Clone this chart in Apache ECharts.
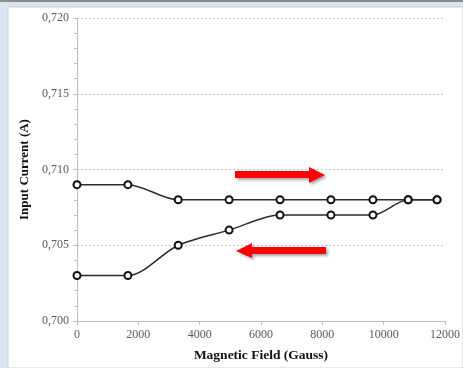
<!DOCTYPE html>
<html>
<head>
<meta charset="utf-8">
<script src="https://cdn.jsdelivr.net/npm/echarts@6/dist/echarts.min.js"></script>
<style>
  html, body { margin: 0; padding: 0; background: #dbe5f1; }
  #chart { width: 463px; height: 368px; }
</style>
</head>
<body>
<div id="chart"></div>
<script>
  // field values (Gauss) and measured current (A)
  var fieldUp = [0, 1660, 3300, 4960, 6620, 8280, 9650, 10800, 11740];
  var currentUp = [0.709, 0.709, 0.708, 0.708, 0.708, 0.708, 0.708, 0.708, 0.708];
  var fieldDown = [0, 1660, 3300, 4960, 6620, 8280, 9650, 10800, 11740];
  var currentDown = [0.703, 0.703, 0.705, 0.706, 0.707, 0.707, 0.707, 0.708, 0.708];

  function pairs(xs, ys) {
    var out = [];
    for (var i = 0; i < xs.length; i++) out.push([xs[i], ys[i]]);
    return out;
  }

  var myChart = echarts.init(document.getElementById('chart'));
  var font = 'Liberation Serif';

  var seriesStyle = {
    type: 'line',
    smooth: 0.3,
    symbol: 'circle',
    symbolSize: 7,
    lineStyle: { color: '#2b2b2b', width: 1.5 },
    itemStyle: { color: '#ffffff', borderColor: '#111', borderWidth: 2 },
    z: 3
  };

  myChart.setOption({
    backgroundColor: 'transparent',
    animation: false,
    graphic: [
      // white page with the light blue frame around it
      { type: 'rect', shape: { x: 0, y: 0, width: 463, height: 2 }, style: { fill: '#8c8c8c' }, z: -10 },
      { type: 'rect', shape: { x: 8, y: 7, width: 455, height: 361 }, style: { fill: '#ffffff', stroke: '#c8d3e0', lineWidth: 1 }, z: -10 },
      // right arrow
      {
        type: 'polygon',
        shape: { points: [[235, 171], [309, 171], [309, 167], [325, 175], [309, 183], [309, 178], [235, 178]] },
        style: { fill: '#ff0000', shadowBlur: 3, shadowOffsetX: 2, shadowOffsetY: 2, shadowColor: 'rgba(0,0,0,0.35)' },
        z: 10
      },
      // left arrow
      {
        type: 'polygon',
        shape: { points: [[326, 247], [252, 247], [252, 243], [236, 251], [252, 258], [252, 254], [326, 254]] },
        style: { fill: '#ff0000', shadowBlur: 3, shadowOffsetX: 2, shadowOffsetY: 2, shadowColor: 'rgba(0,0,0,0.35)' },
        z: 10
      }
    ],
    grid: { left: 77, right: 18, top: 18, bottom: 47 },
    xAxis: {
      type: 'value',
      min: 0,
      max: 12000,
      interval: 2000,
      name: 'Magnetic Field (Gauss)',
      nameLocation: 'middle',
      nameGap: 28,
      nameTextStyle: { fontFamily: font, fontWeight: 'bold', fontSize: 13.5, color: '#111' },
      axisLine: { show: true, lineStyle: { color: '#bfbfbf' } },
      axisTick: { show: true, length: 4, lineStyle: { color: '#bfbfbf' } },
      axisLabel: {
        fontFamily: font, fontSize: 12, color: '#595959', margin: 8,
        formatter: function (v) { return String(v); }
      },
      splitLine: { show: false }
    },
    yAxis: {
      type: 'value',
      min: 0.7,
      max: 0.72,
      interval: 0.005,
      name: 'Input Current (A)',
      nameLocation: 'middle',
      nameGap: 44,
      nameTextStyle: { fontFamily: font, fontWeight: 'bold', fontSize: 13, color: '#111' },
      axisLine: { show: true, lineStyle: { color: '#bfbfbf' } },
      axisTick: { show: true, inside: false, length: 4, lineStyle: { color: '#bfbfbf' } },
      minorTick: { show: true, splitNumber: 5, length: 3, lineStyle: { color: '#bfbfbf' } },
      axisLabel: {
        fontFamily: font, fontSize: 12, color: '#595959', margin: 8,
        formatter: function (v) { return v.toFixed(3).replace('.', ','); }
      },
      splitLine: { show: true, lineStyle: { color: '#c8c8c8', type: [2, 2] } }
    },
    series: [
      Object.assign({ name: 'up', data: pairs(fieldUp, currentUp) }, seriesStyle),
      Object.assign({ name: 'down', data: pairs(fieldDown, currentDown) }, seriesStyle)
    ]
  });
</script>
</body>
</html>
